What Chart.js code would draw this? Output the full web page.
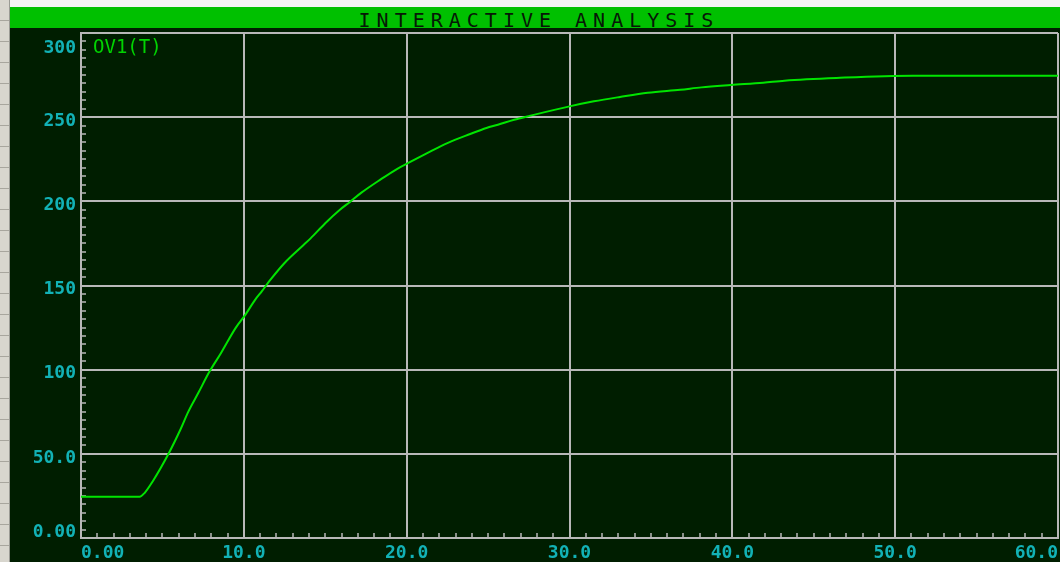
<!DOCTYPE html>
<html>
<head>
<meta charset="utf-8">
<title>Interactive Analysis</title>
<script src="https://cdn.jsdelivr.net/npm/chart.js@4.4.1/dist/chart.umd.min.js"></script>
<style>
  body { margin: 0; background: #f4f4f4; }
  #wrap { position: relative; width: 1060px; height: 562px; overflow: hidden; }
  #frame {
    position: absolute; left: 0; top: 0; width: 9px; height: 562px;
    background: repeating-linear-gradient(to bottom, #d8d6ce 0px, #d8d6ce 20px, #a8a69e 20px, #a8a69e 21px);
    border-right: 1px solid #9a9a94;
  }
  #screen { position: absolute; left: 10px; top: 28px; right: 0; bottom: 0; background: #001e00; }
  #titlebar {
    position: absolute; left: 10px; top: 7px; right: 0; height: 21px; overflow: visible;
    background: #00c000; color: #061806;
    font-family: 'DejaVu Sans Mono', monospace; font-size: 20px; line-height: 27px;
    letter-spacing: 6px; text-align: center; padding-left: 8px; box-sizing: border-box;
  }
  canvas { position: absolute; left: 0; top: 0; }
</style>
</head>
<body>
<div id="wrap">
  <div id="frame"></div>
  <div id="screen"></div>
  <div id="titlebar">INTERACTIVE ANALYSIS</div>
  <canvas id="chart" width="1060" height="562"></canvas>
</div>
<script>
// ===== Data =====
const timeValues = [0, 3.6, 3.9, 4.4, 5.4, 6.1, 6.6, 7.2, 7.9, 8.6, 9.5, 10.1, 10.7, 11.1, 11.6, 12.5,
  13.6, 14.1, 15.0, 15.9, 16.5, 17.2, 18.4, 19.4, 20.1, 21.2, 22.5, 23.9, 24.9, 25.6, 26.6, 27.6,
  30.0, 31.5, 33.1, 34.8, 36.8, 38.1, 39.9, 41.9, 43.2, 46.4, 51.1, 60.0];
const v1Values = [24.5, 24.5, 26.7, 33.6, 50.5, 64.3, 75.2, 86.1, 99.0, 109.9, 124.8, 132.7, 141.6, 146.5, 153.0, 163.4,
  173.5, 178.0, 187.0, 195.0, 199.5, 205.0, 213.0, 219.2, 222.8, 228.3, 234.6, 240.0, 243.6, 245.5, 248.5, 250.9,
  256.4, 259.4, 262.0, 264.5, 266.3, 267.7, 269.1, 270.5, 271.7, 273.3, 274.6, 274.6];

const seriesLabel = 'OV1(T)';
const xTickLabels = ['0.00', '10.0', '20.0', '30.0', '40.0', '50.0', '60.0'];
const yTickLabels = ['0.00', '50.0', '100', '150', '200', '250', '300'];

// ===== Styles =====
const gridColor = '#b8b8b8';
const labelColor = '#12b2b6';
const traceColor = '#00e400';
const monoFont = "'DejaVu Sans Mono', monospace";

const points = timeValues.map((t, i) => ({ x: t, y: v1Values[i] }));

// trace name sits in the top-left corner of the plot
const traceNamePlugin = {
  id: 'traceName',
  afterDraw(chart) {
    const { ctx, chartArea } = chart;
    ctx.save();
    ctx.font = `19px ${monoFont}`;
    ctx.fillStyle = '#00d400';
    ctx.textAlign = 'left';
    ctx.textBaseline = 'middle';
    ctx.fillText(chart.data.datasets[0].label, chartArea.left + 12, chartArea.top + 15);
    ctx.restore();
  }
};

new Chart(document.getElementById('chart'), {
  type: 'scatter',
  data: {
    datasets: [{
      label: seriesLabel,
      data: points,
      showLine: true,
      borderColor: traceColor,
      backgroundColor: traceColor,
      borderWidth: 2,
      pointRadius: 0,
      cubicInterpolationMode: 'monotone'
    }]
  },
  options: {
    responsive: false,
    animation: false,
    layout: { padding: { left: 10, top: 33, right: 2, bottom: 0 } },
    plugins: {
      tooltip: { enabled: false },
      legend: { display: false }
    },
    scales: {
      x: {
        type: 'linear',
        min: 0, max: 60,
        // fixed box, no extra label padding at the ends
        afterFit: s => { s.height = 24; s.paddingLeft = 0; s.paddingRight = 0; },
        border: { color: gridColor, width: 2 },
        grid: {
          // full lines only on the majors, short inward marks every 1.0
          color: ctx => (ctx.tick && ctx.tick.value % 10 === 0 ? gridColor : 'transparent'),
          lineWidth: 2,
          tickColor: gridColor,
          tickWidth: 1.5,
          tickLength: -5
        },
        ticks: {
          stepSize: 1,
          autoSkip: false,
          maxRotation: 0,
          align: 'inner',
          padding: 10,
          color: labelColor,
          font: { family: monoFont, size: 18, weight: 'bold' },
          callback: v => (v % 10 === 0 ? xTickLabels[v / 10] : '')
        }
      },
      y: {
        min: 0, max: 300,
        afterFit: s => { s.width = 71; s.paddingTop = 0; s.paddingBottom = 0; },
        border: { color: gridColor, width: 2 },
        grid: {
          color: ctx => (ctx.tick && ctx.tick.value % 50 === 0 ? gridColor : 'transparent'),
          lineWidth: 2,
          tickColor: gridColor,
          tickWidth: 1.5,
          tickLength: -5
        },
        ticks: {
          stepSize: 5,
          autoSkip: false,
          padding: 10,
          labelOffset: 4,
          color: labelColor,
          // end labels are pushed inside the plot with an empty second line
          font: ctx => ({
            family: monoFont, size: 18, weight: 'bold',
            lineHeight: ctx.tick && ctx.tick.value === 300 ? '23px' : ctx.tick && ctx.tick.value === 0 ? '19px' : 1.2
          }),
          callback: v => {
            if (v % 50 !== 0) return '';
            const label = yTickLabels[v / 50];
            if (v === 300) return ['', label];
            if (v === 0) return [label, ''];
            return label;
          }
        }
      }
    }
  },
  plugins: [traceNamePlugin]
});
</script>
</body>
</html>
